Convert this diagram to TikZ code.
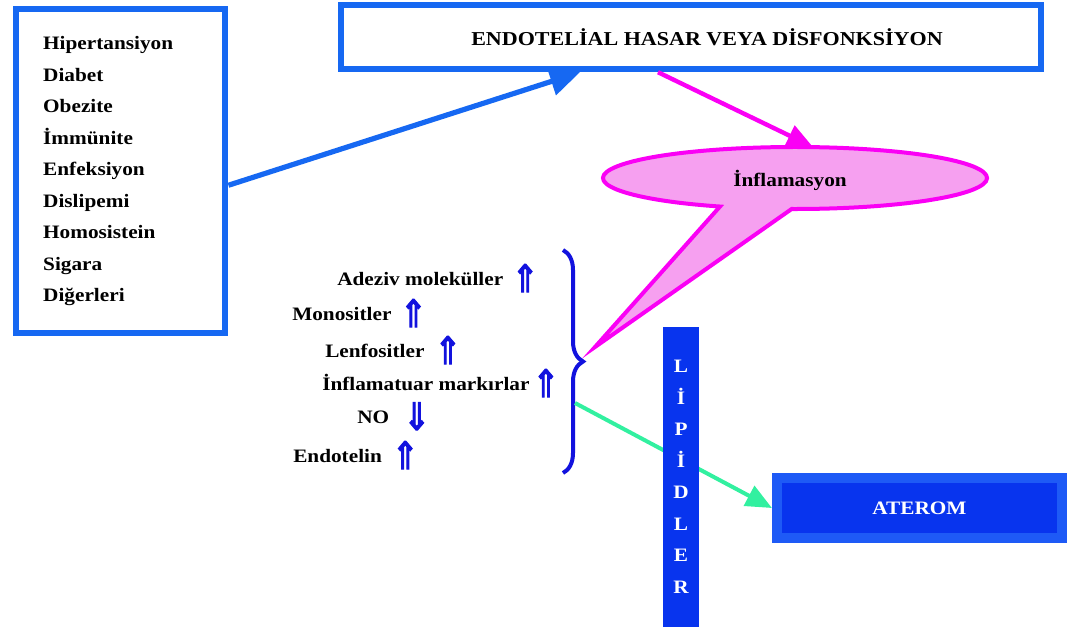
\documentclass[tikz,border=0pt]{standalone}
\usepackage{fontspec}
\setmainfont{Liberation Serif}[FakeStretch=1.12]
\newfontfamily\okfont{DejaVu Sans}[FakeBold=3]
\usepackage{graphicx}
\usetikzlibrary{arrows.meta,decorations.pathreplacing}
\definecolor{boxblue}{RGB}{22,104,242}
\definecolor{darkblue}{RGB}{8,52,238}
\definecolor{lightblue}{RGB}{30,90,246}
\definecolor{markblue}{RGB}{18,18,222}
\definecolor{mag}{RGB}{250,0,245}
\definecolor{pinkfill}{RGB}{246,160,240}
\definecolor{springgreen}{RGB}{50,240,160}
\newcommand{\yukari}{\textcolor{markblue}{\raisebox{-5pt}{\scalebox{1.7}[2]{\okfont\mdseries ⇑}}}}
\newcommand{\asagi}{\textcolor{markblue}{\raisebox{-5pt}{\scalebox{1.7}[2]{\okfont\mdseries ⇓}}}}
\begin{document}
\begin{tikzpicture}[x=0.025cm,y=-0.025cm,
  every node/.style={font=\bfseries\fontsize{13.5}{22.4}\selectfont},
  riskbox/.style={draw=boxblue,line width=0.16cm,fill=white,align=left,text width=3.875cm,inner xsep=0.675cm,minimum height=8.1cm,anchor=north west},
  titlebox/.style={draw=boxblue,line width=0.16cm,minimum width=17.5cm,minimum height=1.6cm,font=\bfseries\fontsize{14}{16}\selectfont},
  item/.style={anchor=base west,inner sep=0},
  lipid/.style={fill=darkblue,text=white,align=center,minimum width=0.9cm,minimum height=7.5cm},
  aterbox/.style={draw=lightblue,fill=darkblue,line width=0.25cm,text=white,minimum width=7.125cm,minimum height=1.5cm}]
\useasboundingbox (0,0) rectangle (1067,632);
\node[riskbox] (risk) at (13,6) {Hipertansiyon\\Diabet\\Obezite\\İmmünite\\Enfeksiyon\\Dislipemi\\Homosistein\\Sigara\\Diğerleri};
\node[titlebox] (title) at (691,37) {\hspace*{0.8cm}ENDOTELİAL HASAR VEYA DİSFONKSİYON};
\coordinate (endA) at (580,0);
\coordinate (magA) at (658,0);
\coordinate (magB) at (813,147);
\coordinate (inflc) at (795,178);
\coordinate (tipC) at (595,347);
\coordinate (brc) at (575,403);
\draw[boxblue,line width=0.13cm,-{Triangle[length=0.75cm,width=0.7cm]}] ([yshift=-0.35cm]risk.east) -- (title.south -| endA);
\draw[mag,line width=0.11cm,-{Triangle[length=0.65cm,width=0.55cm]}] (title.south -| magA) -- (magB);
\filldraw[mag,fill=pinkfill,line width=0.1cm] ([shift={(inflc)}]91:192 and 31) -- (tipC) -- ([shift={(inflc)}]113:192 and 31) arc[start angle=113,end angle=451,x radius=192,y radius=31] -- cycle;
\node (infl) at (790,180) {İnflamasyon};
\draw[markblue,line width=0.1cm,decorate,decoration={brace,amplitude=0.5cm}] (563,250) -- (563,473);
\node[item] (adez) at (337,285) {Adeziv moleküller\hspace{6pt}\yukari};
\node[item] (mono) at (292,320) {Monositler\hspace{6pt}\yukari};
\node[item] (lenf) at (325,357) {Lenfositler\hspace{7pt}\yukari};
\node[item] (mark) at (322,390) {İnflamatuar markırlar\hspace{2pt}\yukari};
\node[item] (no) at (357,423) {NO\hspace{10pt}\asagi};
\node[item] (endo) at (293,462) {Endotelin\hspace{7pt}\yukari};
\node[aterbox] (ater) at (919.5,508) {ATEROM};
\draw[springgreen,line width=0.1cm,-{Triangle[length=0.65cm,width=0.55cm]}] (brc) -- (ater.west);
\node[lipid] (lipid) at (681,477) {L\\İ\\P\\İ\\D\\L\\E\\R};
\end{tikzpicture}
\end{document}
